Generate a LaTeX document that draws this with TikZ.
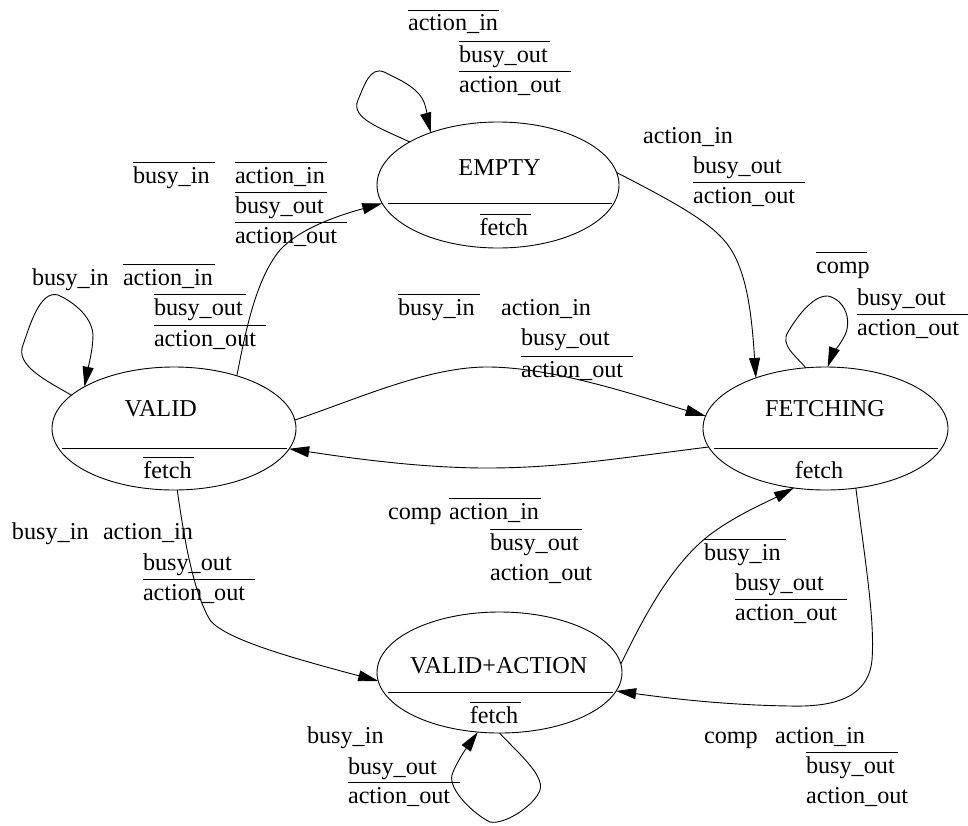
\documentclass[tikz,border=0pt]{standalone}
\usepackage{fontspec}
\setmainfont{Liberation Serif}
\usetikzlibrary{arrows.meta,shapes.geometric}
% text with a bar over it; #1 is the bar length in pt
\newcommand\ovlw[2]{\rlap{\rule[0.83em]{#1pt}{0.8pt}}#2}
\begin{document}
\begin{tikzpicture}[x=1pt,y=-1pt,
  font=\fontsize{24.2}{29}\selectfont,
  state/.style={draw, ellipse, line width=0.9pt, inner sep=0pt, outer sep=0pt},
  ttl/.style={anchor=base, inner sep=0pt, outer sep=0pt},
  lbl/.style={anchor=base west, inner sep=0pt, outer sep=0pt},
  edge/.style={line width=0.9pt, -{Triangle[length=20pt,width=11pt]}},
  divider/.style={line width=0.9pt}]
\useasboundingbox (0,0) rectangle (968,825);

% ---------- states ----------
\node[state, minimum width=242pt, minimum height=126pt] (empty) at (498,185) {};
\node[state, minimum width=244pt, minimum height=123pt] (valid) at (174,428.5) {};
\node[state, minimum width=245pt, minimum height=123pt] (fetching) at (825.5,428.5) {};
\node[state, minimum width=245pt, minimum height=121pt] (va) at (499.5,672.5) {};

\draw[divider] (388,203) -- (612,203);
\draw[divider] (62,448.3) -- (287,448.3);
\draw[divider] (714,448) -- (938,448);
\draw[divider] (388,692.7) -- (613,692.7);

\node[ttl] (emptyname) at (499.5,175) {EMPTY};
\node[ttl] (emptyout) at (503.7,235) {\ovlw{51}{fetch}};
\node[ttl] (validname) at (160.7,416.7) {VALID};
\node[ttl] (validout) at (167.5,478.3) {\ovlw{51}{fetch}};
\node[ttl] (fetchname) at (825,416.7) {FETCHING};
\node[ttl] (fetchout) at (819,478.3) {fetch};
\node[ttl] (vaname) at (498.8,673.3) {VALID+ACTION};
\node[ttl] (vaout) at (494,723.3) {\ovlw{51}{fetch}};

% ---------- transitions ----------
% EMPTY self loop
\draw[edge] (empty.154.5) .. controls (380,128) and (350,118) .. (358,100)
  .. controls (364,86) and (370,66) .. (384,72)
  .. controls (400,80) and (420,88) .. (425,105)
  .. controls (428,115) and (428,122) .. (empty.142.9);
% EMPTY -> FETCHING
\draw[edge] (empty.6) .. controls (680,205) and (715,225) .. (730,248)
  .. controls (748,275) and (752,320) .. (fetching.144.4);
% VALID -> EMPTY
\draw[edge] (valid.40.7) .. controls (245,335) and (255,280) .. (280,250)
  .. controls (300,228) and (340,215) .. (empty.189);
% VALID self loop
\draw[edge] (valid.162.1) .. controls (45,380) and (15,365) .. (23,345)
  .. controls (30,325) and (40,290) .. (58,295)
  .. controls (70,300) and (92,315) .. (93,335)
  .. controls (93,350) and (88,368) .. (valid.155.7);
% VALID -> FETCHING
\draw[edge] (valid.4.9) .. controls (360,398) and (430,366) .. (490,367)
  .. controls (560,368) and (650,400) .. (fetching.174.6);
% FETCHING -> VALID
\draw[edge] (fetching.189) .. controls (620,458) and (560,468) .. (487,468)
  .. controls (420,468) and (350,458) .. (valid.-10);
% FETCHING self loop
\draw[edge] (fetching.108.4) .. controls (795,355) and (780,345) .. (788,332)
  .. controls (795,320) and (812,295) .. (828,296)
  .. controls (845,300) and (852,320) .. (845,335)
  .. controls (840,345) and (832,355) .. (fetching.88.6);
% VALID -> VALID+ACTION
\draw[edge] (valid.-87) .. controls (183,530) and (192,590) .. (210,620)
  .. controls (225,640) and (300,660) .. (va.184.4);
% VALID+ACTION -> FETCHING
\draw[edge] (va.4.9) .. controls (640,625) and (665,575) .. (700,543)
  .. controls (725,520) and (765,503) .. (fetching.242.1);
% FETCHING -> VALID+ACTION
\draw[edge] (fetching.297.1) .. controls (865,560) and (875,620) .. (872,660)
  .. controls (868,700) and (830,707) .. (790,706)
  .. controls (720,705) and (660,697) .. (va.-9.8);
% VALID+ACTION self loop
\draw[edge] (va.270.5) .. controls (515,750) and (545,775) .. (540,790)
  .. controls (535,805) and (505,825) .. (490,822)
  .. controls (475,815) and (448,790) .. (452,775)
  .. controls (455,765) and (465,750) .. (va.250.2);

% ---------- transition labels ----------
% EMPTY self loop
\node[lbl] (e1) at (408,30.7) {\ovlw{91}{action\_in}};
\node[lbl] (e2) at (459,62) {\ovlw{91}{busy\_out}};
\node[lbl] (e3) at (459,92) {\ovlw{112}{action\_out}};
% EMPTY -> FETCHING
\node[lbl] (ef1) at (643,143) {action\_in};
\node[lbl] (ef2) at (693,173) {busy\_out};
\node[lbl] (ef3) at (693,203) {\ovlw{112}{action\_out}};
% VALID -> EMPTY
\node[lbl] (ve1) at (133,183) {\ovlw{82}{busy\_in}};
\node[lbl] (ve2) at (235,183) {\ovlw{92}{action\_in}};
\node[lbl] (ve3) at (235,213) {\ovlw{92}{busy\_out}};
\node[lbl] (ve4) at (235,243) {\ovlw{112}{action\_out}};
% VALID self loop
\node[lbl] (v1) at (32,285) {busy\_in};
\node[lbl] (v2) at (123,285) {\ovlw{92}{action\_in}};
\node[lbl] (v3) at (154,315) {\ovlw{92}{busy\_out}};
\node[lbl] (v4) at (154,346) {\ovlw{112}{action\_out}};
% VALID -> FETCHING
\node[lbl] (vf1) at (398,315) {\ovlw{82}{busy\_in}};
\node[lbl] (vf2) at (501,315) {action\_in};
\node[lbl] (vf3) at (521,345) {busy\_out};
\node[lbl] (vf4) at (521,377) {\ovlw{112}{action\_out}};
% FETCHING self loop
\node[lbl] (f1) at (816,273) {\ovlw{51}{comp}};
\node[lbl] (f2) at (857,305) {busy\_out};
\node[lbl] (f3) at (857,335) {\ovlw{112}{action\_out}};
% FETCHING -> VALID
\node[lbl] (fv1) at (388,519) {comp};
\node[lbl] (fv2) at (449,519) {\ovlw{92}{action\_in}};
\node[lbl] (fv3) at (490,550) {\ovlw{92}{busy\_out}};
\node[lbl] (fv4) at (490,580) {action\_out};
% VALID -> VALID+ACTION
\node[lbl] (va1) at (12,539) {busy\_in};
\node[lbl] (va2) at (103,539) {action\_in};
\node[lbl] (va3) at (143,570) {busy\_out};
\node[lbl] (va4) at (143,600) {\ovlw{112}{action\_out}};
% VALID+ACTION self loop
\node[lbl] (a1) at (307,743) {busy\_in};
\node[lbl] (a2) at (348,774) {busy\_out};
\node[lbl] (a3) at (348,803) {\ovlw{112}{action\_out}};
% VALID+ACTION -> FETCHING
\node[lbl] (af1) at (704,560) {\ovlw{82}{busy\_in}};
\node[lbl] (af2) at (735,590) {busy\_out};
\node[lbl] (af3) at (735,620) {\ovlw{112}{action\_out}};
% FETCHING -> VALID+ACTION
\node[lbl] (fa1) at (704,743) {comp};
\node[lbl] (fa2) at (775,743) {action\_in};
\node[lbl] (fa3) at (806,773) {\ovlw{92}{busy\_out}};
\node[lbl] (fa4) at (806,803) {action\_out};
\end{tikzpicture}
\end{document}
